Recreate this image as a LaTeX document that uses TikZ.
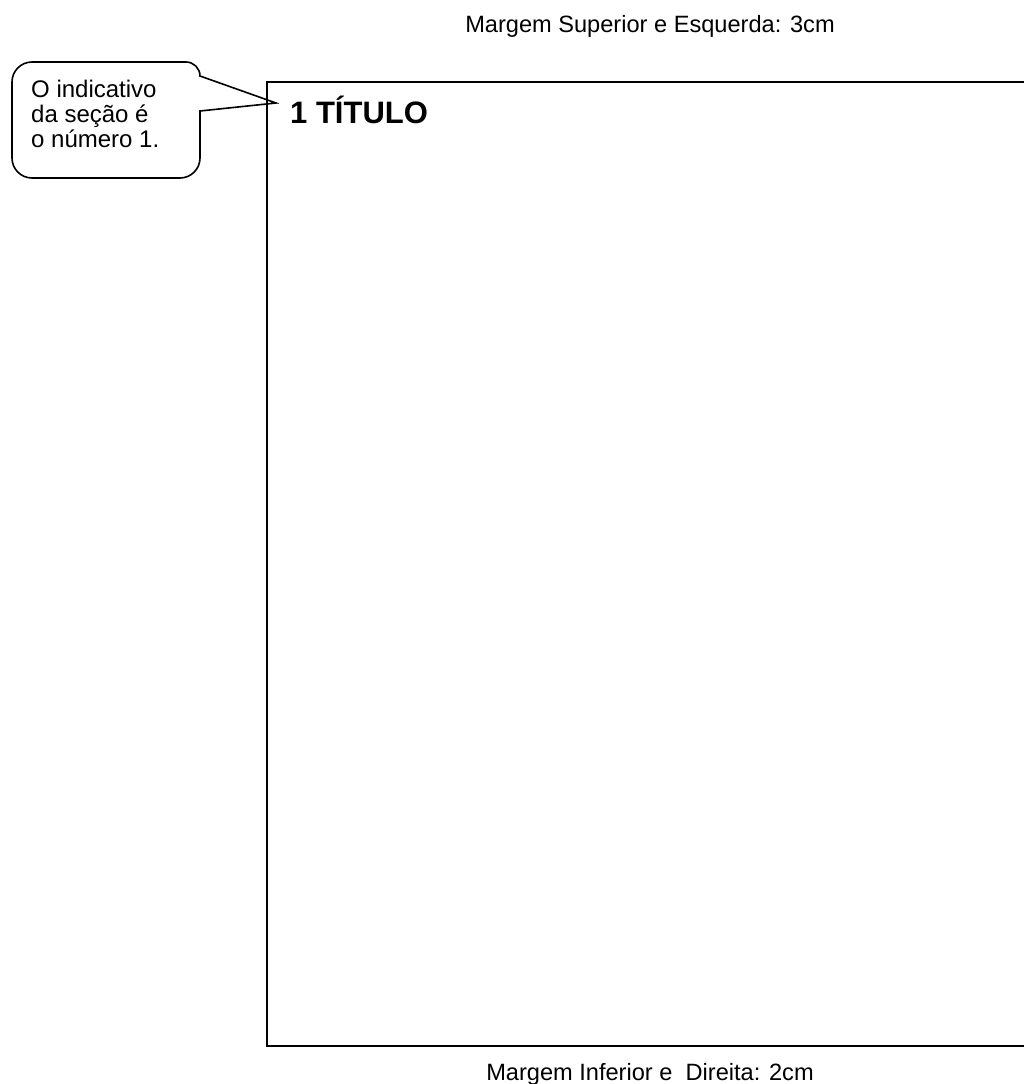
\documentclass[tikz,border=0pt]{standalone}
\usepackage{fontspec}
\setmainfont{Liberation Sans}
\usetikzlibrary{positioning}

\begin{document}
\begin{tikzpicture}[
  x=1pt, y=1pt,
  margem/.style={font=\fontsize{23.6}{24}\selectfont, inner sep=0pt},
  titulo/.style={font=\fontsize{31}{32}\selectfont\bfseries, inner sep=0pt},
  balao/.style={font=\fontsize{24}{25}\selectfont, align=left, inner sep=0pt},
  linha/.style={line width=1.6pt, line join=miter}
]
  \useasboundingbox (0,0) rectangle (1024,-1084);

  % Page frame
  \coordinate (pgtl) at (267,-82);
  \coordinate (pgtr) at (1024,-82);
  \coordinate (pgbl) at (267,-1046);
  \coordinate (pgbr) at (1024,-1046);
  \draw[linha] (pgtr) -- (pgtl) -- (pgbl) -- (pgbr);

  % Margin labels
  \node[margem, anchor=base] (sup) at (650,-32) {Margem Superior e Esquerda: 3cm};
  \node[margem, anchor=base] (inf) at (650,-1080) {Margem Inferior e\ \ Direita: 2cm};

  % Section title
  \node[titulo, anchor=base west] (tit) at (290,-123) {1 TÍTULO};

  % Callout
  \coordinate (ponta) at (276,-103);
  \draw[linha] (ponta) -- (200,-111) -- (200,-158)
    arc[start angle=0, end angle=-90, radius=20pt] -- (32,-178)
    arc[start angle=270, end angle=180, radius=20pt] -- (12,-82)
    arc[start angle=180, end angle=90, radius=20pt] -- (186,-62)
    arc[start angle=90, end angle=0, radius=14pt] -- cycle;
  \node[balao, anchor=north west] (nota) at (31,-80) {O indicativo\\da seção é\\o número 1.};
\end{tikzpicture}
\end{document}
